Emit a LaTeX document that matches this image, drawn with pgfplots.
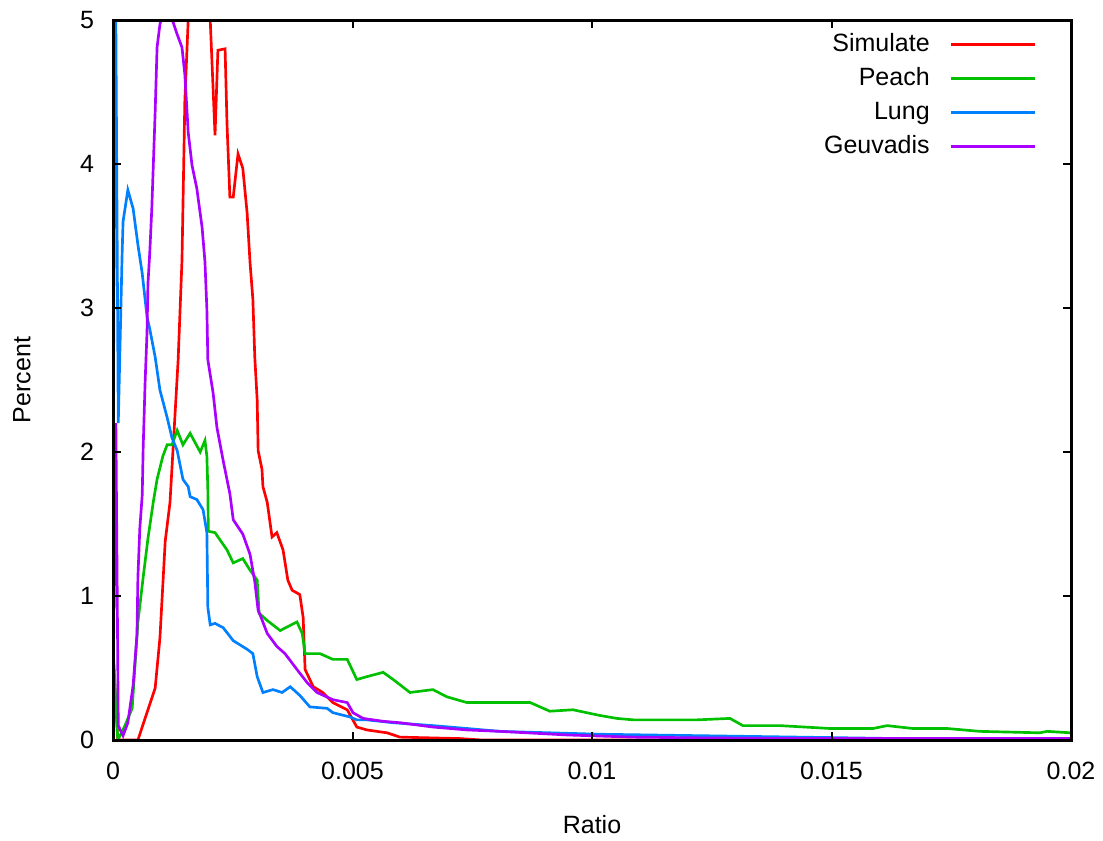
\documentclass[border=0pt]{standalone}
\usepackage{pgfplots}
\pgfplotsset{compat=1.18}
\usepackage{fontspec}
\setmainfont{Liberation Sans}

\definecolor{cSim}{HTML}{FF0000}
\definecolor{cPeach}{HTML}{00C000}
\definecolor{cLung}{HTML}{0080FF}
\definecolor{cGeu}{HTML}{AA00FF}

\begin{document}
\fontsize{7.5}{9}\selectfont
\begin{tikzpicture}
\useasboundingbox (-33.9pt,-30pt) rectangle (297pt,222pt);
\begin{axis}[
    scale only axis,
    width=287.4pt,
    height=216pt,
    xmin=0, xmax=0.02,
    ymin=0, ymax=5,
    scaled x ticks=false,
    xtick={0,0.005,0.01,0.015,0.02},
    xticklabels={0,0.005,0.01,0.015,0.02},
    ytick={0,1,2,3,4,5},
    yticklabels={0,1,2,3,4,5},
    tick align=inside,
    major tick length=2.4pt,
    tick style={black, line width=0.6pt},
    axis line style={black, line width=0.9pt},
    axis on top,
    xticklabel style={yshift=-4pt},
    yticklabel style={xshift=-3pt},
    xlabel={Ratio},
    ylabel={Percent},
    xlabel style={at={(axis description cs:0.5,0)}, anchor=center, yshift=-25.5pt},
    ylabel style={at={(axis description cs:0,0.5)}, anchor=center, yshift=27.3pt},
    legend cell align=right,
    legend plot pos=right,
    legend image code/.code={\draw[#1] (0pt,0pt) -- (25.2pt,0pt);},
    legend style={draw=none, fill=none, inner sep=0pt,
        at={(rel axis cs:1,1)}, anchor=north east,
        xshift=-10.2pt, yshift=-2.6pt,
        row sep=1.2pt, column sep=6pt,
        nodes={inner sep=0pt, text height=6.6pt, text depth=2.4pt}},
    every axis plot/.append style={line width=0.8pt, sharp plot},
]

% Simulate
\addplot[cSim] coordinates {
(0,0.6)(0.0001,0)(0.00052,0)(0.00088,0.36)(0.00098,0.71)(0.00109,1.38)(0.00119,1.65)
(0.00136,2.64)(0.00144,3.33)(0.00150,4.44)(0.00157,5.0)(0.00170,5.6)(0.00190,5.6)
(0.00203,5.0)(0.00213,4.2)(0.00219,4.79)(0.00234,4.8)(0.00238,4.28)(0.00244,3.77)
(0.00251,3.77)(0.00261,4.07)(0.00271,3.97)(0.00280,3.66)(0.00286,3.32)(0.00292,3.06)
(0.00296,2.66)(0.00301,2.36)(0.00303,2.01)(0.00311,1.88)(0.00313,1.76)(0.00322,1.65)
(0.00332,1.41)(0.00342,1.44)(0.00355,1.32)(0.00365,1.11)(0.00374,1.04)(0.00390,1.01)
(0.00397,0.85)(0.00401,0.49)(0.00418,0.37)(0.00438,0.33)(0.00459,0.26)(0.00489,0.21)
(0.00509,0.09)(0.00530,0.07)(0.00572,0.05)(0.00599,0.02)(0.00724,0.01)(0.0077,0)(0.02,0)
};
\addlegendentry{Simulate}

% Peach
\addplot[cPeach] coordinates {
(0,0.65)(0.0001,0)(0.00025,0.10)(0.00040,0.22)(0.00052,0.82)(0.00063,1.13)(0.00073,1.40)
(0.00084,1.65)(0.00092,1.81)(0.00104,1.97)(0.00113,2.05)(0.00123,2.05)(0.00134,2.15)
(0.00146,2.05)(0.00161,2.13)(0.00182,2.0)(0.00192,2.08)(0.00196,1.97)(0.00198,1.74)
(0.00199,1.45)(0.00213,1.44)(0.00238,1.32)(0.00251,1.23)(0.00271,1.26)(0.00286,1.18)
(0.00301,1.11)(0.00305,0.88)(0.00322,0.83)(0.00349,0.76)(0.00384,0.82)(0.00395,0.74)
(0.00401,0.60)(0.00432,0.60)(0.00459,0.56)(0.00489,0.56)(0.00509,0.42)(0.00530,0.44)
(0.00564,0.47)(0.00585,0.42)(0.00620,0.33)(0.00668,0.35)(0.00697,0.30)(0.00739,0.26)
(0.00808,0.26)(0.00871,0.26)(0.00912,0.20)(0.00960,0.21)(0.01017,0.17)(0.01052,0.15)
(0.01086,0.14)(0.01157,0.14)(0.01219,0.14)(0.01288,0.15)(0.01315,0.10)(0.01392,0.10)
(0.01497,0.08)(0.01587,0.08)(0.01616,0.10)(0.01670,0.08)(0.01741,0.08)(0.01810,0.06)
(0.01935,0.05)(0.01950,0.06)(0.02,0.05)
};
\addlegendentry{Peach}

% Lung
\addplot[cLung] coordinates {
(0,1.7)(0.00005,5.5)(0.00011,2.2)(0.00019,3.37)(0.00021,3.6)(0.00031,3.82)(0.00042,3.69)
(0.00052,3.44)(0.00061,3.24)(0.00071,2.94)(0.00077,2.85)(0.00088,2.66)(0.00098,2.43)
(0.00113,2.24)(0.00123,2.10)(0.00134,2.01)(0.00146,1.81)(0.00157,1.76)(0.00161,1.69)
(0.00175,1.67)(0.00188,1.60)(0.00196,1.44)(0.00198,0.92)(0.00203,0.80)(0.00213,0.81)
(0.00230,0.78)(0.00251,0.69)(0.00280,0.63)(0.00292,0.60)(0.00301,0.44)(0.00313,0.33)
(0.00334,0.35)(0.00353,0.33)(0.00370,0.37)(0.00390,0.31)(0.00411,0.23)(0.00447,0.22)
(0.00459,0.19)(0.00495,0.16)(0.00509,0.14)(0.00530,0.14)(0.00585,0.12)(0.00668,0.10)
(0.00739,0.08)(0.00808,0.06)(0.01017,0.04)(0.01225,0.03)(0.01434,0.02)(0.0164,0.01)
(0.02,0.005)
};
\addlegendentry{Lung}

% Geuvadis
\addplot[cGeu] coordinates {
(0,0.3)(0.00006,2.2)(0.00011,0.1)(0.00021,0.03)(0.00031,0.12)(0.00042,0.38)(0.00050,0.73)
(0.00052,1.13)(0.00056,1.47)(0.00061,1.70)(0.00063,2.03)(0.00067,2.48)(0.00071,2.83)
(0.00073,3.17)(0.00077,3.40)(0.00081,3.69)(0.00088,4.36)(0.00092,4.81)(0.00098,4.97)
(0.00102,5.02)(0.00115,5.05)(0.00125,4.99)(0.00134,4.90)(0.00144,4.81)(0.00150,4.62)
(0.00155,4.34)(0.00157,4.22)(0.00165,3.99)(0.00175,3.83)(0.00186,3.56)(0.00192,3.32)
(0.00196,2.99)(0.00198,2.64)(0.00209,2.41)(0.00217,2.17)(0.00230,1.94)(0.00244,1.71)
(0.00251,1.53)(0.00271,1.43)(0.00286,1.29)(0.00296,1.10)(0.00303,0.90)(0.00307,0.87)
(0.00322,0.74)(0.00342,0.65)(0.00359,0.60)(0.00384,0.49)(0.00405,0.40)(0.00426,0.33)
(0.00459,0.28)(0.00489,0.26)(0.00501,0.19)(0.00522,0.15)(0.00564,0.13)(0.00599,0.12)
(0.00668,0.09)(0.00739,0.07)(0.00808,0.06)(0.00948,0.035)(0.01086,0.02)(0.01225,0.015)
(0.0143,0.01)(0.02,0.01)
};
\addlegendentry{Geuvadis}

\end{axis}
\end{tikzpicture}
\end{document}
